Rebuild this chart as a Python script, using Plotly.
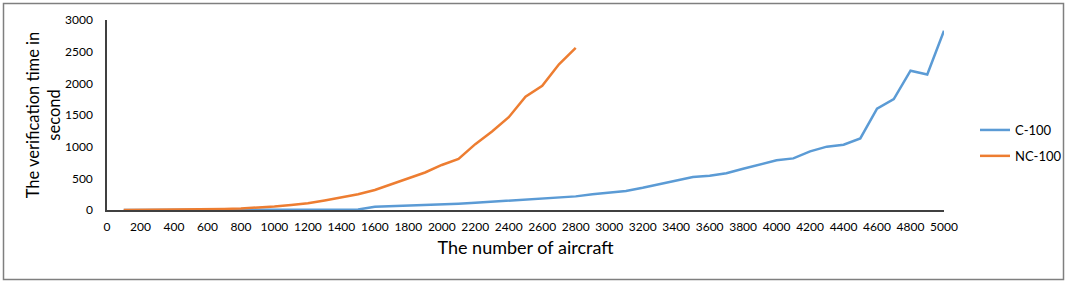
import plotly.graph_objects as go

aircraft_c = list(range(100, 5001, 100))
c100 = [0, 0, 0, 0, 1, 1, 1, 1, 2, 2, 2, 3, 3, 4, 8,
        50, 58, 65, 75, 90, 100, 115, 130, 145, 160, 180, 200, 215, 250, 280,
        300, 350, 410, 470, 520, 540, 580, 650, 720, 785,
        815, 925, 1000, 1030, 1130, 1600, 1750, 2200, 2140, 2830]

aircraft_nc = list(range(100, 2801, 100))
nc100 = [0, 1, 3, 5, 7, 11, 17, 25, 37, 55, 78, 105, 150, 200, 250,
         316, 411, 505, 592, 711, 806, 1040, 1240, 1465, 1790, 1960, 2300, 2560]

x_ticks = list(range(0, 5001, 200))
y_ticks = list(range(0, 3001, 500))

FONT = "Lato"
fig = go.Figure()
fig.add_trace(go.Scatter(x=aircraft_c, y=c100, mode="lines", name="C-100",
                         line=dict(color="#5B9BD5", width=2.5), legendgroup="a"))
fig.add_trace(go.Scatter(x=aircraft_nc, y=nc100, mode="lines", name="NC-100",
                         line=dict(color="#ED7D31", width=2.5), legendgroup="b"))

L, R, T, B = 107, 125, 20, 74
pw, ph = 1069 - L - R, 284 - T - B

fig.update_layout(
    width=1069, height=284,
    margin=dict(l=L, r=R, t=T, b=B, pad=0, autoexpand=False),
    paper_bgcolor="white", plot_bgcolor="white",
    font=dict(family=FONT, size=12, color="#000000"),
    showlegend=True,
    legend=dict(x=(975 - L) / pw, xanchor="left", y=(210 - 115) / ph, yanchor="top",
                font=dict(family=FONT, size=13, color="#000000"),
                tracegroupgap=6, traceorder="grouped", itemwidth=30,
                bgcolor="rgba(0,0,0,0)"),
    xaxis=dict(range=[0, 5000], tickvals=x_ticks, ticktext=[str(v) for v in x_ticks],
               showgrid=False, zeroline=False, showline=True, linecolor="#404040",
               linewidth=1.5, ticks="", ticklabelstandoff=5,
               tickfont=dict(family=FONT, size=12, color="#000000"),
               title=dict(text="The number of aircraft", standoff=8,
                          font=dict(family=FONT, size=18, color="#000000"))),
    yaxis=dict(range=[0, 3000], tickvals=y_ticks, ticktext=[str(v) for v in y_ticks],
               showgrid=False, zeroline=False, showline=True, linecolor="#404040",
               linewidth=1.5, ticks="", ticklabelstandoff=10,
               tickfont=dict(family=FONT, size=12, color="#000000"),
               title=dict(text="The verification time in<br>second", standoff=0,
                          font=dict(family=FONT, size=16.5, color="#000000"))),
    shapes=[dict(type="rect", xref="paper", yref="paper",
                 x0=(3.5 - L) / pw, x1=(1063.5 - L) / pw,
                 y0=(210 - 279.5) / ph, y1=(210 - 3.5) / ph,
                 line=dict(color="#7f7f7f", width=1.5), fillcolor="rgba(0,0,0,0)",
                 layer="below")],
)

fig.write_html("out.html")
